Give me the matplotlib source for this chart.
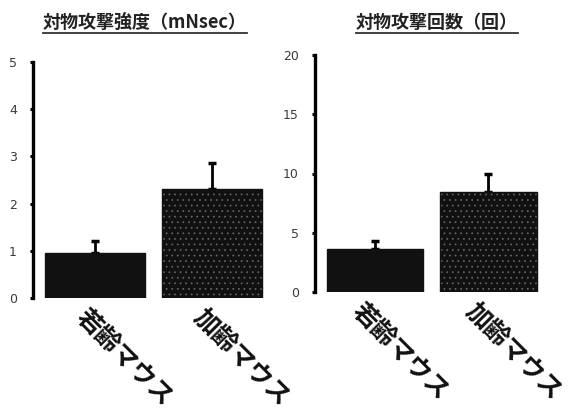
import numpy as np
import matplotlib.pyplot as plt
from matplotlib.lines import Line2D
from matplotlib.transforms import IdentityTransform

plt.rcParams['font.family'] = ['Noto Sans CJK JP', 'DejaVu Sans']
plt.rcParams['hatch.linewidth'] = 0.5

groups = ['若齢マウス', '加齢マウス']
titles = ['対物攻撃強度（mNsec）', '対物攻撃回数（回）']
strength = [0.95, 2.3]
strength_err = [0.26, 0.56]
count = [3.6, 8.4]
count_err = [0.7, 1.6]

W, H = 580, 408
fig = plt.figure(figsize=(W / 100, H / 100), dpi=100)

def box(x0, x1, ytop, ybot):
    return [x0 / W, 1 - ybot / H, (x1 - x0) / W, (ybot - ytop) / H]

ax1 = fig.add_axes(box(33, 270, 62, 298))
ax2 = fig.add_axes(box(315, 545, 55, 292))

panels = [
    (ax1, strength, strength_err, 5, [0, 1, 2, 3, 4, 5], -0.055),
    (ax2, count, count_err, 20, [0, 5, 10, 15, 20], -0.095),
]

x = np.arange(len(groups))
for ax, vals, errs, ymax, yt, off in panels:
    ax.errorbar(x, vals, yerr=[[0, 0], errs], fmt='none', ecolor='black',
                elinewidth=2, capsize=3, capthick=2.5, zorder=1)
    ax.bar(x[0], vals[0], width=0.855, color='#111111', edgecolor='#111111',
           linewidth=1, zorder=2)
    ax.bar(x[1], vals[1], width=0.855, color='#111111', edgecolor='#6a6a6a',
           linewidth=0, hatch='...', zorder=2)
    ax.bar(x[1], vals[1], width=0.855, fill=False, edgecolor='#111111',
           linewidth=1, zorder=3)
    ax.set_xlim(-0.53, 1.5)
    ax.set_ylim(0, ymax)
    ax.set_yticks(yt)
    ax.set_xticks([])
    for s in ['top', 'right', 'bottom']:
        ax.spines[s].set_visible(False)
    ax.spines['left'].set_linewidth(2.4)
    ax.tick_params(axis='y', length=2.5, width=2.2, pad=9, labelsize=9,
                   labelcolor='#3a3a3a')
    for lbl in ax.get_yticklabels():
        lbl.set_family('DejaVu Sans')
    for i, g in enumerate(groups):
        ax.text(i + off, -0.03, g, transform=ax.get_xaxis_transform(),
                rotation=-45, rotation_mode='anchor', ha='left', va='top',
                fontsize=18, fontweight='bold', color='#111111')

t1 = fig.text(145 / W, 1 - 22 / H, titles[0], ha='center', va='center',
              fontsize=13, fontweight='bold', color='#222222')
t2 = fig.text(437 / W, 1 - 22 / H, titles[1], ha='center', va='center',
              fontsize=13, fontweight='bold', color='#222222')

fig.canvas.draw()
r = fig.canvas.get_renderer()
for t in [t1, t2]:
    bb = t.get_window_extent(r)
    fig.add_artist(Line2D([bb.x0, bb.x1], [bb.y0 - 1, bb.y0 - 1],
                          transform=IdentityTransform(), color='#333333',
                          linewidth=1.3))

fig.savefig('out.png', dpi=100)
